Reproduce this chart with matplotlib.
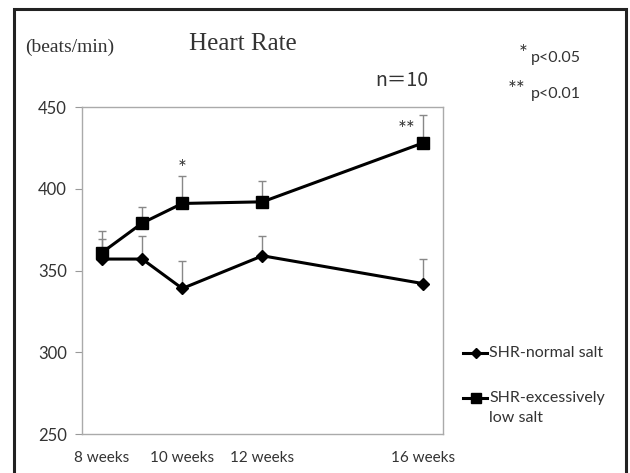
import matplotlib
matplotlib.use("Agg")
import matplotlib.pyplot as plt
from matplotlib.patches import Rectangle
from matplotlib.lines import Line2D
import numpy as np

weeks = [8, 9, 10, 12, 16]
normal_salt = [357, 357, 339, 359, 342]
normal_err_top = [369, 371, 356, 371, 357]
low_salt = [361, 379, 391, 392, 428]
low_err_top = [374, 389, 408, 405, 445]
xtick_pos = [8, 10, 12, 16]
xtick_labels = ["8 weeks", "10 weeks", "12 weeks", "16 weeks"]
yticks = [250, 300, 350, 400, 450]
series_labels = ["SHR-normal salt", "SHR-excessively\nlow salt"]

sans = ["Lato", "DejaVu Sans"]
serif = ["Liberation Serif", "DejaVu Serif"]
tc = "#333333"

fig = plt.figure(figsize=(6.3, 4.73), dpi=100)
fig.patches.append(Rectangle((14/630, -0.1), (626-14)/630, 1 - 9/473 + 0.1,
                             transform=fig.transFigure, fill=False,
                             edgecolor="#222222", linewidth=2.2, zorder=0))
ax = fig.add_axes([82/630, 1-434/473, (443-82)/630, (434-107)/473])

ne = np.array(normal_err_top) - np.array(normal_salt)
le = np.array(low_err_top) - np.array(low_salt)
ax.errorbar(weeks, normal_salt, yerr=[np.zeros_like(ne), ne], fmt="none",
            ecolor="#888888", elinewidth=1.0, capsize=3, capthick=1.0, zorder=2)
ax.errorbar(weeks, low_salt, yerr=[np.zeros_like(le), le], fmt="none",
            ecolor="#888888", elinewidth=1.0, capsize=3, capthick=1.0, zorder=2)
ax.plot(weeks, normal_salt, color="black", lw=2.2, marker="D", markersize=6, zorder=3)
ax.plot(weeks, low_salt, color="black", lw=2.2, marker="s", markersize=9, zorder=4)

ax.set_xlim(7.5, 16.5)
ax.set_ylim(250, 450)
ax.set_yticks(yticks)
ax.set_yticklabels([str(v) for v in yticks], fontsize=12, color=tc, family=sans)
ax.set_xticks(xtick_pos)
ax.set_xticklabels(xtick_labels, fontsize=11, color=tc, family=sans)
ax.tick_params(axis="x", length=0, pad=12)
ax.tick_params(axis="y", length=5, color="#999999", pad=6)
for s in ax.spines.values():
    s.set_color("#aaaaaa")
    s.set_linewidth(1.0)

ax.text(10, 412, "*", ha="center", va="center", fontsize=15, color=tc, family=sans)
ax.text(15.58, 436, "**", ha="center", va="center", fontsize=15, color=tc, family=sans)

fig.text(25/630, 1-47/473, "(beats/min)", fontsize=14, family=serif, color=tc, va="center")
fig.text(189/630, 1-44/473, "Heart Rate", fontsize=18, family=serif, color=tc, va="center")
fig.text(375/630, 1-80/473, "n＝10", fontsize=14, family=["Noto Sans CJK JP", "DejaVu Sans"],
         color=tc, va="center")
fig.text(519/630, 1-54/473, "*", fontsize=15, family=sans, color=tc, va="center")
fig.text(531/630, 1-58/473, "p<0.05", fontsize=11.5, family=sans, color=tc, va="center")
fig.text(508/630, 1-90/473, "**", fontsize=15, family=sans, color=tc, va="center")
fig.text(531/630, 1-94/473, "p<0.01", fontsize=11.5, family=sans, color=tc, va="center")

# legend drawn by hand so the handle sits on the first text line
leg_y = [353, 398]
leg_markers = [("D", 5), ("s", 7)]
for (m, ms), y, lab in zip(leg_markers, leg_y, series_labels):
    yf = 1 - y/473
    fig.add_artist(Line2D([463/630, 487/630], [yf, yf], transform=fig.transFigure,
                          color="black", lw=2.2))
    fig.add_artist(Line2D([476/630], [yf], transform=fig.transFigure,
                          color="black", marker=m, markersize=ms, lw=0))
    for i, line in enumerate(lab.split("\n")):
        fig.text(489/630, 1 - (y + 20*i)/473, line, fontsize=11.5, family=sans,
                 color=tc, va="center")

fig.savefig("out.png", dpi=100)
